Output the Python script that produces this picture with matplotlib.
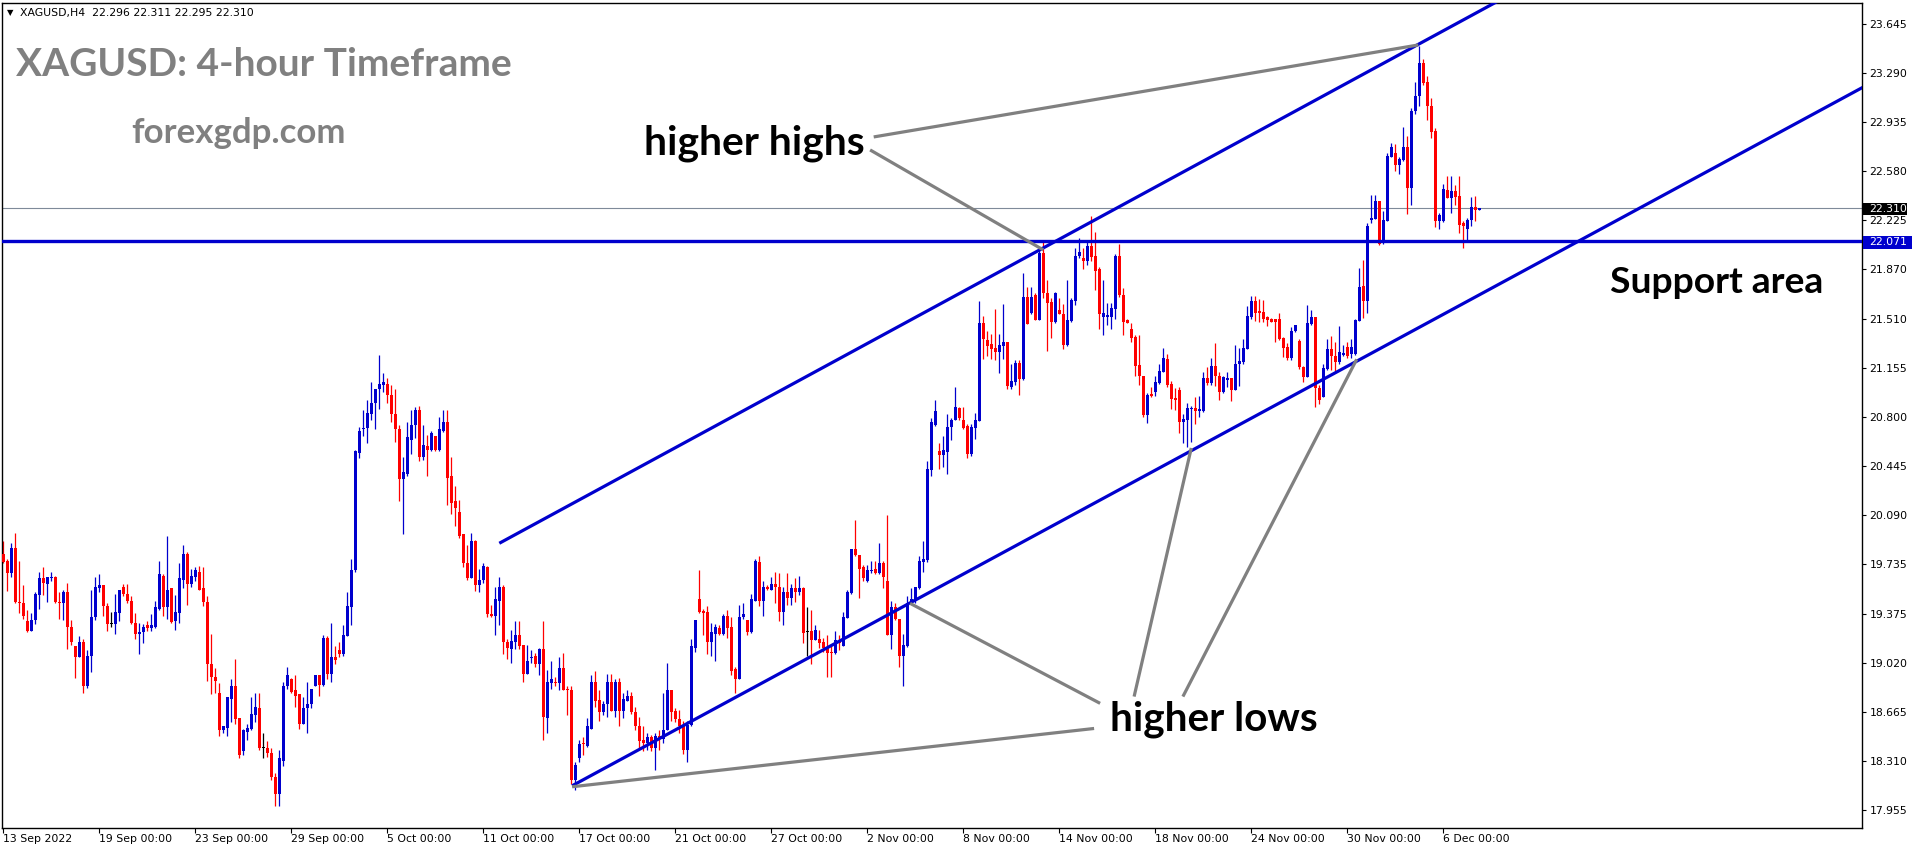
import numpy as np
import matplotlib
matplotlib.use("Agg")
import matplotlib.pyplot as plt
from matplotlib.patches import Rectangle

# ---------------- data (XAGUSD H4, 13 Sep 2022 -> 7 Dec 2022) ----------------
opens = [
 19.81,19.76,19.67,19.85,19.46,19.45,19.32,19.25,19.33,19.51,
 19.63,19.59,19.63,19.64,19.46,19.45,19.53,19.28,19.14,19.06,
 19.17,18.85,19.07,19.35,19.56,19.58,19.43,19.30,19.30,19.38,
 19.57,19.52,19.47,19.31,19.23,19.24,19.29,19.27,19.28,19.41,
 19.65,19.42,19.56,19.32,19.38,19.62,19.81,19.59,19.64,19.68,
 19.56,19.46,19.01,18.92,18.80,18.53,18.55,18.76,18.85,18.62,
 18.38,18.52,18.54,18.64,18.69,18.40,18.40,18.37,18.19,18.07,
 18.31,18.85,18.90,18.82,18.79,18.58,18.69,18.72,18.85,18.93,
 18.86,19.20,18.94,19.06,19.11,19.08,19.21,19.42,19.69,20.54,
 20.715,20.72,20.82,20.90,21.00,21.03,21.04,20.96,20.82,20.71,
 20.35,20.39,20.63,20.74,20.85,20.51,20.59,20.56,20.66,20.56,
 20.70,20.76,20.37,20.19,20.11,19.95,19.74,19.63,19.90,19.58,
 19.62,19.71,19.375,19.355,19.47,19.57,19.17,19.12,19.17,19.22,
 19.15,18.94,19.055,19.07,19.01,19.12,18.62,18.87,18.88,18.87,
 18.98,18.83,18.825,18.17,18.33,18.435,18.42,18.54,18.88,18.75,
 18.665,18.72,18.88,18.67,18.88,18.67,18.745,18.78,18.665,18.56,
 18.46,18.44,18.485,18.40,18.49,18.465,18.53,18.82,18.67,18.615,
 18.57,18.39,18.57,19.13,19.48,19.395,19.39,19.17,19.23,19.275,
 19.23,19.355,19.28,18.977,18.90,19.35,19.33,19.24,19.47,19.75,
 19.47,19.57,19.55,19.59,19.57,19.39,19.53,19.49,19.56,19.53,
 19.56,19.245,19.25,19.185,19.19,19.17,19.13,19.095,19.09,19.185,
 19.14,19.345,19.525,19.84,19.80,19.71,19.615,19.687,19.70,19.67,
 19.74,19.61,19.22,19.42,19.34,19.07,19.14,19.45,19.475,19.564,
 19.75,19.766,20.418,20.744,20.55,20.527,20.548,20.73,20.78,20.867,
 20.78,20.737,20.534,20.72,20.773,21.48,21.36,21.33,21.30,21.27,
 21.31,21.34,21.02,21.055,21.19,21.077,21.67,21.555,21.685,21.504,
 21.99,21.70,21.63,21.49,21.577,21.548,21.323,21.497,21.642,21.968,
 21.953,21.931,22.04,21.968,21.873,21.526,21.526,21.526,21.584,21.968,
 21.683,21.502,21.437,21.381,21.179,21.099,20.817,20.969,20.983,21.049,
 21.128,21.222,21.041,20.94,20.998,20.766,20.78,20.86,20.867,20.846,
 20.846,21.085,21.048,21.171,21.099,20.983,21.07,21.085,20.998,21.186,
 21.20,21.295,21.526,21.642,21.57,21.562,21.526,21.512,21.512,21.512,
 21.374,21.309,21.229,21.425,21.352,21.164,21.092,21.476,21.526,21.012,
 20.945,21.15,21.295,21.244,21.20,21.25,21.309,21.258,21.258,21.497,
 21.751,21.642,22.229,22.236,22.366,22.062,22.222,22.685,22.714,22.627,
 22.663,22.757,22.46,23.018,23.12,23.361,23.228,23.05,22.871,22.221,
 22.221,22.446,22.388,22.434,22.40,22.202,22.16,22.229,22.323,22.296]
highs = [
 19.90,19.77,19.89,19.96,19.76,19.58,19.40,19.38,19.53,19.68,
 19.71,19.64,19.68,19.65,19.53,19.55,19.60,19.33,19.14,19.21,
 19.19,19.11,19.55,19.64,19.66,19.58,19.45,19.39,19.52,19.55,
 19.59,19.59,19.50,19.38,19.31,19.30,19.32,19.37,19.47,19.76,
 19.66,19.94,19.56,19.51,19.74,19.87,19.82,19.70,19.71,19.72,
 19.71,19.50,19.23,18.98,18.87,18.565,18.77,18.90,19.05,18.62,
 18.54,18.58,18.77,18.80,18.80,18.51,18.45,18.40,18.22,18.39,
 18.88,18.99,18.91,18.93,18.79,18.77,18.88,18.83,18.93,18.93,
 19.22,19.21,19.31,19.14,19.17,19.29,19.53,19.77,20.56,20.73,
 20.85,20.92,21.05,21.005,21.25,21.12,21.08,21.03,21.00,20.74,
 20.51,20.76,20.85,20.87,20.88,20.74,20.67,20.70,20.66,20.80,
 20.85,20.85,20.51,20.30,20.20,19.95,19.875,19.96,19.91,19.70,
 19.74,19.72,19.44,19.57,19.64,19.58,19.19,19.26,19.32,19.32,
 19.15,19.15,19.115,19.09,19.13,19.32,18.97,19.03,18.92,19.06,
 19.09,18.85,18.85,18.30,18.46,18.48,18.62,18.93,18.96,18.82,
 18.745,18.94,18.94,18.90,18.91,18.80,18.825,18.81,18.70,18.63,
 18.56,18.51,18.50,18.51,18.53,18.80,19.02,18.82,18.69,18.68,
 18.60,18.60,19.19,19.33,19.69,19.41,19.43,19.31,19.30,19.29,
 19.37,19.40,19.35,18.99,19.44,19.45,19.33,19.52,19.77,19.795,
 19.61,19.585,19.64,19.68,19.67,19.57,19.67,19.59,19.63,19.65,
 19.57,19.42,19.40,19.29,19.26,19.20,19.22,19.15,19.25,19.22,
 19.39,19.55,19.84,20.05,19.80,19.73,19.73,19.76,19.76,19.89,
 19.76,20.09,19.47,19.45,19.34,19.23,19.50,19.56,19.57,19.79,
 19.90,20.48,20.79,20.925,20.61,20.66,20.82,20.79,21.02,20.874,
 20.874,20.75,20.75,20.83,21.64,21.53,21.42,21.40,21.58,21.40,
 21.62,21.34,21.185,21.21,21.21,21.84,21.74,21.74,21.70,22.02,
 22.08,21.79,21.66,21.707,21.663,21.62,21.79,21.663,22.025,22.098,
 22.025,22.076,22.257,22.141,21.888,21.794,21.627,21.627,21.982,22.055,
 21.736,21.507,21.478,21.396,21.396,21.099,20.976,21.019,21.099,21.186,
 21.302,21.258,21.063,21.012,21.019,20.824,20.904,20.882,20.947,20.954,
 21.128,21.164,21.229,21.338,21.128,21.099,21.128,21.085,21.323,21.302,
 21.367,21.606,21.678,21.678,21.656,21.649,21.533,21.515,21.512,21.555,
 21.381,21.338,21.454,21.468,21.367,21.171,21.613,21.577,21.526,21.034,
 21.186,21.367,21.389,21.345,21.461,21.323,21.345,21.367,21.512,21.881,
 21.939,22.207,22.41,22.41,22.366,22.294,22.714,22.786,22.779,22.685,
 22.902,22.837,23.04,23.228,23.489,23.39,23.269,23.107,22.895,22.279,
 22.484,22.547,22.547,22.482,22.547,22.221,22.243,22.39,22.402,22.311]
lows = [
 19.74,19.54,19.64,19.45,19.38,19.34,19.24,19.25,19.30,19.41,
 19.51,19.46,19.61,19.45,19.34,19.33,19.12,19.15,18.91,19.06,
 18.80,18.84,18.95,19.33,19.53,19.36,19.25,19.28,19.23,19.32,
 19.50,19.45,19.30,19.19,19.08,19.16,19.25,19.25,19.27,19.40,
 19.36,19.34,19.31,19.26,19.31,19.56,19.44,19.57,19.61,19.55,
 19.43,18.89,18.79,18.80,18.49,18.51,18.49,18.59,18.58,18.33,
 18.35,18.46,18.53,18.59,18.39,18.33,18.34,18.17,17.98,17.98,
 18.27,18.83,18.80,18.70,18.54,18.58,18.51,18.69,18.85,18.78,
 18.85,18.90,18.88,19.01,19.06,19.07,19.21,19.29,19.68,20.50,
 20.66,20.61,20.78,20.71,20.86,20.98,20.90,20.76,20.62,20.19,
 19.95,20.37,20.53,20.65,20.48,20.49,20.37,20.55,20.55,20.55,
 20.69,20.16,20.10,20.01,19.92,19.71,19.62,19.63,19.54,19.53,
 19.60,19.35,19.35,19.22,19.29,19.08,19.05,19.02,19.12,19.12,
 18.88,18.94,19.02,18.99,18.93,18.46,18.51,18.83,18.85,18.82,
 18.82,18.64,18.14,18.10,18.30,18.35,18.41,18.54,18.70,18.60,
 18.64,18.63,18.67,18.63,18.56,18.62,18.74,18.65,18.53,18.40,
 18.38,18.39,18.38,18.24,18.39,18.44,18.53,18.60,18.59,18.51,
 18.36,18.30,18.56,19.10,19.38,19.22,19.08,19.07,19.03,19.22,
 19.22,19.20,18.93,18.80,18.90,19.34,19.22,19.235,19.47,19.43,
 19.36,19.55,19.55,19.455,19.32,19.29,19.44,19.44,19.46,19.51,
 19.165,19.07,19.01,19.185,19.13,19.10,18.92,18.92,19.08,19.11,
 19.14,19.345,19.52,19.79,19.49,19.61,19.607,19.672,19.66,19.665,
 19.56,19.22,19.12,19.33,18.99,18.85,19.135,19.445,19.45,19.556,
 19.68,19.75,20.37,20.737,20.425,20.44,20.39,20.635,20.78,20.78,
 20.715,20.50,20.52,20.64,20.77,21.22,21.24,21.22,21.21,21.12,
 21.22,21.00,21.00,21.03,20.96,21.07,21.47,21.548,21.50,21.50,
 21.66,21.28,21.37,21.482,21.548,21.29,21.31,21.49,21.613,21.953,
 21.873,21.90,21.931,21.721,21.439,21.395,21.468,21.439,21.511,21.67,
 21.396,21.478,21.345,21.099,21.034,20.802,20.759,20.947,20.954,21.041,
 21.128,21.019,20.86,20.853,20.68,20.61,20.58,20.62,20.75,20.802,
 20.838,21.034,21.034,21.027,20.925,20.976,21.019,20.918,20.998,21.027,
 21.186,21.295,21.512,21.497,21.49,21.49,21.461,21.49,21.345,21.36,
 21.237,21.215,21.215,21.418,21.15,21.056,21.09,21.468,20.875,20.896,
 20.945,21.142,21.142,21.135,21.186,21.244,21.229,21.229,21.251,21.497,
 21.519,21.555,22.207,22.236,22.048,22.055,22.222,22.685,22.584,22.562,
 22.656,22.272,22.337,22.99,23.05,23.20,22.953,22.822,22.178,22.163,
 22.214,22.383,22.279,22.337,22.135,22.026,22.084,22.185,22.221,22.295]
closes = [
 19.75,19.67,19.85,19.46,19.45,19.36,19.25,19.33,19.52,19.63,
 19.60,19.64,19.64,19.46,19.45,19.53,19.28,19.17,19.06,19.17,
 18.85,19.07,19.35,19.57,19.58,19.43,19.30,19.30,19.39,19.55,
 19.52,19.47,19.31,19.23,19.24,19.28,19.27,19.29,19.42,19.66,
 19.42,19.55,19.315,19.39,19.63,19.81,19.59,19.65,19.69,19.55,
 19.46,19.01,18.92,18.89,18.535,18.56,18.77,18.85,18.615,18.35,
 18.53,18.55,18.65,18.70,18.40,18.40,18.37,18.19,18.07,18.33,
 18.85,18.93,18.81,18.78,18.58,18.69,18.72,18.83,18.93,18.86,
 19.20,18.94,19.06,19.04,19.08,19.22,19.43,19.69,20.55,20.70,
 20.72,20.83,20.90,21.00,21.04,21.05,20.96,20.82,20.71,20.35,
 20.40,20.655,20.74,20.85,20.51,20.60,20.56,20.68,20.56,20.71,
 20.76,20.36,20.18,20.14,19.94,19.74,19.63,19.90,19.58,19.62,
 19.72,19.375,19.355,19.48,19.57,19.17,19.13,19.18,19.22,19.14,
 18.94,19.035,19.065,19.01,19.12,18.63,18.88,18.90,18.87,18.98,
 18.825,18.82,18.17,18.28,18.43,18.43,18.56,18.88,18.745,18.665,
 18.72,18.88,18.67,18.88,18.67,18.76,18.78,18.665,18.56,18.456,
 18.44,18.485,18.40,18.49,18.47,18.535,18.82,18.665,18.615,18.565,
 18.39,18.57,19.14,19.33,19.385,19.38,19.17,19.24,19.28,19.23,
 19.36,19.275,18.96,18.90,19.35,19.375,19.24,19.48,19.76,19.47,
 19.57,19.556,19.59,19.565,19.39,19.53,19.49,19.56,19.53,19.56,
 19.235,19.245,19.185,19.257,19.165,19.13,19.09,19.09,19.185,19.16,
 19.35,19.53,19.84,19.80,19.70,19.63,19.69,19.694,19.67,19.74,
 19.64,19.223,19.42,19.34,19.07,19.15,19.45,19.48,19.57,19.76,
 19.77,20.425,20.76,20.845,20.527,20.563,20.73,20.78,20.874,20.794,
 20.722,20.534,20.73,20.78,21.48,21.367,21.316,21.29,21.27,21.32,
 21.34,21.026,21.062,21.19,21.077,21.67,21.475,21.67,21.504,21.99,
 21.70,21.627,21.49,21.70,21.548,21.323,21.504,21.649,21.968,21.996,
 21.931,22.04,21.96,21.859,21.548,21.555,21.54,21.591,21.968,21.683,
 21.49,21.483,21.374,21.171,21.099,20.817,20.961,20.954,21.056,21.135,
 21.229,21.034,20.933,20.925,20.766,20.788,20.867,20.867,20.846,20.86,
 21.085,21.048,21.171,21.099,20.983,21.092,21.085,20.998,21.186,21.208,
 21.302,21.533,21.642,21.555,21.555,21.512,21.504,21.49,21.49,21.367,
 21.302,21.229,21.425,21.468,21.164,21.092,21.483,21.526,21.012,20.925,
 21.157,21.295,21.244,21.20,21.273,21.266,21.244,21.309,21.504,21.743,
 21.642,22.18,22.243,22.366,22.055,22.229,22.692,22.757,22.627,22.67,
 22.757,22.46,23.018,23.127,23.361,23.216,23.052,22.866,22.221,22.265,
 22.453,22.388,22.434,22.395,22.192,22.185,22.229,22.323,22.301,22.310]

date_labels = ["13 Sep 2022", "19 Sep 00:00", "23 Sep 00:00", "29 Sep 00:00",
               "5 Oct 00:00", "11 Oct 00:00", "17 Oct 00:00", "21 Oct 00:00",
               "27 Oct 00:00", "2 Nov 00:00", "8 Nov 00:00", "14 Nov 00:00",
               "18 Nov 00:00", "24 Nov 00:00", "30 Nov 00:00", "6 Dec 00:00"]
date_label_bars = [0, 24, 48, 72, 96, 120, 144, 168, 192, 216, 240, 264, 288, 312, 336, 360]
price_ticks = [23.645, 23.290, 22.935, 22.580, 22.225, 21.870, 21.510, 21.155,
               20.800, 20.445, 20.090, 19.735, 19.375, 19.020, 18.665, 18.310, 17.955]
price_tick_labels = ["23.645", "23.290", "22.935", "22.580", "22.225", "21.870", "21.510",
                     "21.155", "20.800", "20.445", "20.090", "19.735", "19.375", "19.020",
                     "18.665", "18.310", "17.955"]
support_level = 22.071
last_price = 22.310

# analyst drawings: (bar, price) anchors
upper_channel = [(124.0, 19.885), (360.4, 23.602)]   # ray to the right
lower_channel = [(142.2, 18.129), (464.6, 23.182)]   # ray to the right
gray_pointers = [
    [(217.6, 22.827), (353.75, 23.493)],
    [(216.7, 22.733), (260.0, 22.009)],
    [(226.7, 19.450), (274.2, 18.726)],
    [(142.2, 18.122), (272.7, 18.544)],
    [(282.7, 18.775), (297.0, 20.575)],
    [(294.9, 18.775), (338.35, 21.217)],
]

# ---------------- figure ----------------
W, H = 1916, 850
fig = plt.figure(figsize=(W / 100, H / 100), dpi=100)
fig.patch.set_facecolor("white")
PL, PR, PB, PT = 2, 1862, 827.5, 2.7
ax = fig.add_axes([PL / W, 1 - PB / H, (PR - PL) / W, (PB - PT) / H])
ax.set_xlim((PL - 3.3) / 4, (PR - 3.3) / 4)
ax.set_ylim(17.827, 23.799)

BLUE = "#0000CD"
RED = "#FF0000"
GRAY = "#808080"

O = np.array(opens); Hh = np.array(highs); Lo = np.array(lows); C = np.array(closes)
idx = np.arange(len(C))
up = C > O
doji = C == O
cols = np.where(up, BLUE, RED).astype(object)
cols[doji] = "black"
ax.vlines(idx, Lo, Hh, colors=list(cols), linewidth=0.9, zorder=2)
body = np.maximum(np.abs(C - O), 0.008)
ax.bar(idx, body, bottom=np.minimum(O, C), width=0.75, color=list(cols), linewidth=0, zorder=3)

# horizontal lines
ax.axhline(last_price, color="#7F8A99", linewidth=0.8, zorder=1)
ax.axhline(support_level, color=BLUE, linewidth=2.4, zorder=4)

def ray(p, x_end=500):
    (x0, y0), (x1, y1) = p
    s = (y1 - y0) / (x1 - x0)
    return [x0, x_end], [y0, y0 + s * (x_end - x0)]

for ch in (upper_channel, lower_channel):
    xs, ys = ray(ch)
    ax.plot(xs, ys, color=BLUE, linewidth=2.3, solid_capstyle="butt", zorder=5)

for seg in gray_pointers:
    (x0, y0), (x1, y1) = seg
    ax.plot([x0, x1], [y0, y1], color=GRAY, linewidth=2.3, solid_capstyle="butt", zorder=6)

# axes styling
for sp in ax.spines.values():
    sp.set_color("black"); sp.set_linewidth(1.0)
ax.yaxis.tick_right()
ax.set_yticks(price_ticks)
ax.set_yticklabels(price_tick_labels)
ax.set_xticks(date_label_bars)
ax.set_xticklabels(date_labels)
ax.tick_params(axis="y", direction="out", length=3, width=0.8, pad=2.5,
               labelsize=7.8, colors="black")
ax.tick_params(axis="x", direction="out", length=3.5, width=0.8, pad=1.5,
               labelsize=7.8, colors="black")
for lab in ax.get_xticklabels():
    lab.set_ha("left")
for lab in ax.get_xticklabels() + ax.get_yticklabels():
    lab.set_family("DejaVu Sans")

# price boxes on the axis
def price_box(y_px, x0, x1, h, fc, txt):
    fig.patches.append(Rectangle((x0 / W, 1 - (y_px + h / 2) / H), (x1 - x0) / W, h / H,
                                 transform=fig.transFigure, facecolor=fc, edgecolor="none", zorder=10))
    fig.text((1869) / W, 1 - y_px / H, txt, color="white", fontsize=7.8,
             family="DejaVu Sans", ha="left", va="center", zorder=11)

price_box(209.2, 1863, 1907, 11.5, "black", "22.310")
price_box(242.3, 1863, 1912, 12.5, BLUE, "22.071")

# header
fig.text(10 / W, 1 - 13 / H, "\u25BC", fontsize=6, family="DejaVu Sans", ha="center", va="center")
fig.text(20.5 / W, 1 - 13 / H, "XAGUSD,H4  22.296 22.311 22.295 22.310", fontsize=7.8,
         family="DejaVu Sans", ha="left", va="center")

# annotation texts
fig.text(16 / W, 1 - 76 / H, "XAGUSD: 4-hour Timeframe", fontsize=28, fontweight="bold",
         family="Lato", color=GRAY, ha="left", va="baseline")
fig.text(131 / W, 1 - 143 / H, "forexgdp.com", fontsize=25.1, fontweight="bold",
         family="Lato", color=GRAY, ha="left", va="baseline")
fig.text(644 / W, 1 - 154 / H, "higher highs", fontsize=29.3, fontweight="bold",
         family="Lato", color="black", ha="left", va="baseline")
fig.text(1610 / W, 1 - 293 / H, "Support area", fontsize=26.8, fontweight="bold",
         family="Lato", color="black", ha="left", va="baseline")
fig.text(1110 / W, 1 - 731 / H, "higher lows", fontsize=29.2, fontweight="bold",
         family="Lato", color="black", ha="left", va="baseline")

fig.savefig("out.png", dpi=100, facecolor="white")
